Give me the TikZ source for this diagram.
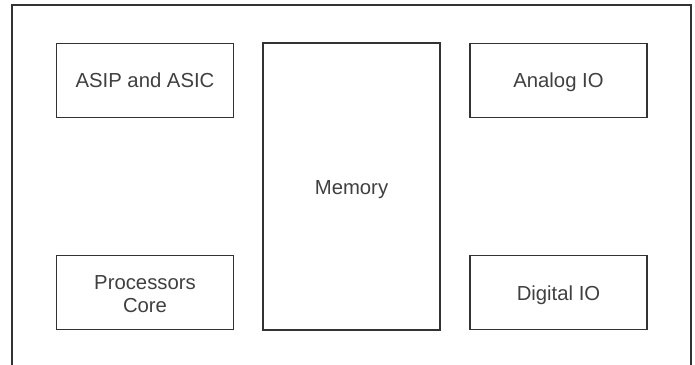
\documentclass[tikz,border=0pt]{standalone}
\usepackage{fontspec}
\setmainfont{Liberation Sans}
\begin{document}
\begin{tikzpicture}[x=1pt,y=-1pt,
  blk/.style={draw=black!80, line width=1.4pt, fill=white, minimum width=177pt, minimum height=74pt, inner sep=0pt},
  lbl/.style={font=\fontsize{20.3}{23}\selectfont, text=black!75, align=center, inner sep=0pt}]
\useasboundingbox (0,0) rectangle (695,364);
\fill[white] (0,0) rectangle (695,364);
\node[draw=black!80, line width=1.2pt, minimum width=679pt, minimum height=370pt, inner sep=0pt] (outer) at (351.5,190) {};
\node[blk] (asip) at (145,80.5) {};
\node[lbl] (asiplbl) at (145,80.5) {ASIP and ASIC};
\node[blk, minimum height=287pt] (mem) at (351.5,186.5) {};
\node[lbl] (memlbl) at (351.5,189.5) {Memory};
\node[blk] (analog) at (558.5,80.5) {};
\node[lbl] (analoglbl) at (558.5,82.5) {Analog IO};
\node[blk] (proc) at (145,292.5) {};
\node[lbl] (proclbl) at (145,294) {Processors\\Core};
\node[blk] (digital) at (558.5,292.5) {};
\node[lbl] (digitallbl) at (558.5,295.5) {Digital IO};
\end{tikzpicture}
\end{document}
